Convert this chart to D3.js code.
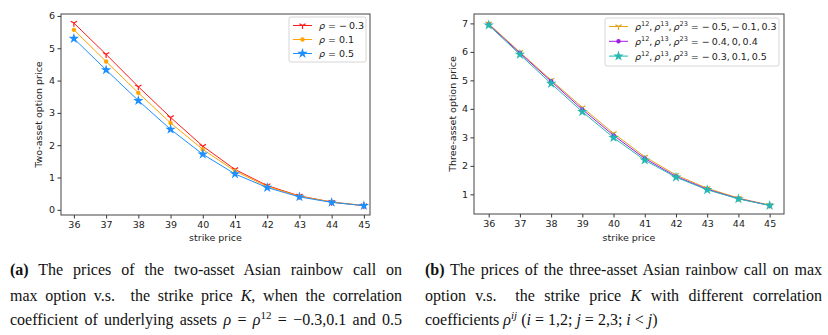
<!DOCTYPE html>
<html>
<head>
<meta charset="utf-8">
<script src="https://cdn.jsdelivr.net/npm/d3@7"></script>
<style>
  body { margin: 0; background: #fff; }
  svg { display: block; }
  .tick text { font-family: "DejaVu Sans", sans-serif; font-size: 9.5px; fill: #222; }
  .lbl { font-family: "DejaVu Sans", sans-serif; font-size: 9.5px; fill: #222; }
  .cap { font-family: "Liberation Serif", "Times New Roman", serif; font-size: 16px; fill: #111; white-space: pre; }
</style>
</head>
<body>
<div id="container"></div>
<script>
/* DATA */
const strikes = [36, 37, 38, 39, 40, 41, 42, 43, 44, 45];

// two-asset panel
const twoRhoNeg03 = [5.78, 4.81, 3.81, 2.86, 1.97, 1.25, 0.75, 0.43, 0.24, 0.13];
const twoRho01    = [5.57, 4.59, 3.62, 2.69, 1.87, 1.20, 0.72, 0.42, 0.24, 0.13];
const twoRho05    = [5.30, 4.33, 3.38, 2.49, 1.72, 1.11, 0.69, 0.40, 0.23, 0.13];
const twoTicks = [0, 1, 2, 3, 4, 5, 6];

// three-asset panel
const threeA = [6.99, 5.99, 5.01, 4.05, 3.14, 2.32, 1.68, 1.21, 0.87, 0.62];
const threeB = [6.96, 5.96, 4.97, 3.98, 3.07, 2.26, 1.63, 1.18, 0.85, 0.61];
const threeC = [6.94, 5.91, 4.89, 3.90, 2.99, 2.20, 1.60, 1.16, 0.84, 0.61];
const threeTicks = [1, 2, 3, 4, 5, 6, 7];

const W = 828, H = 335;
const svg = d3.select("#container").append("svg")
  .attr("width", W).attr("height", H);

// marker drawing
function drawMarker(g, type, color) {
  if (type === "tri") {
    const r = 3.6;
    g.append("path")
      .attr("d", `M0,0L0,${r}M0,0L${-r * 0.87},${-r * 0.5}M0,0L${r * 0.87},${-r * 0.5}`)
      .attr("stroke", color).attr("stroke-width", 1.2).attr("fill", "none");
  } else if (type === "dot") {
    g.append("circle").attr("r", 2.2).attr("fill", color);
  } else if (type === "star") {
    g.append("path").attr("d", d3.symbol(d3.symbolStar, 34)()).attr("fill", color);
  }
}

// legend label: array of [text, kind] where kind = n | i | sup
function richText(t, parts) {
  let sup = false;
  parts.forEach(([s, kind]) => {
    const sp = t.append("tspan").text(s);
    if (kind === "i") sp.attr("font-style", "italic");
    if (kind === "sup" && !sup) { sp.attr("dy", -3.5).attr("font-size", "6.5px"); sup = true; }
    else if (kind !== "sup" && sup) { sp.attr("dy", 3.5); sup = false; }
    else if (kind === "sup") sp.attr("font-size", "6.5px");
  });
}

function drawPanel(cfg) {
  const x = d3.scaleLinear().domain(cfg.xDomain).range(cfg.xRange);
  const y = d3.scaleLinear().domain(cfg.yDomain).range(cfg.yRange);
  const g = svg.append("g");

  // axes
  g.append("g")
    .attr("transform", `translate(0,${cfg.yRange[0]})`)
    .call(d3.axisBottom(x).tickValues(strikes).tickFormat(d3.format("d")).tickSize(3.5).tickPadding(3))
    .call(a => a.select(".domain").remove())
    .call(a => a.selectAll("line").attr("stroke", "#333"));
  g.append("g")
    .attr("transform", `translate(${cfg.xRange[0]},0)`)
    .call(d3.axisLeft(y).tickValues(cfg.yTicks).tickFormat(d3.format("d")).tickSize(3.5).tickPadding(2.5))
    .call(a => a.select(".domain").remove())
    .call(a => a.selectAll("line").attr("stroke", "#333"));

  // frame
  g.append("rect")
    .attr("x", cfg.xRange[0]).attr("y", cfg.yRange[1])
    .attr("width", cfg.xRange[1] - cfg.xRange[0])
    .attr("height", cfg.yRange[0] - cfg.yRange[1])
    .attr("fill", "none").attr("stroke", "#444").attr("stroke-width", 1);

  // series
  const line = d3.line().x((d, i) => x(strikes[i])).y(d => y(d));
  cfg.series.forEach(s => {
    g.append("path").datum(s.values)
      .attr("d", line).attr("fill", "none")
      .attr("stroke", s.color).attr("stroke-width", 1);
    g.selectAll(null).data(s.values).join("g")
      .attr("transform", (d, i) => `translate(${x(strikes[i])},${y(d)})`)
      .each(function () { drawMarker(d3.select(this), s.marker, s.color); });
  });

  // axis labels
  g.append("text").attr("class", "lbl")
    .attr("x", (cfg.xRange[0] + cfg.xRange[1]) / 2).attr("y", 241)
    .attr("text-anchor", "middle").text("strike price");
  g.append("text").attr("class", "lbl")
    .attr("transform", `translate(${cfg.yLabelX},${(cfg.yRange[0] + cfg.yRange[1]) / 2}) rotate(-90)`)
    .attr("text-anchor", "middle").text(cfg.yLabel);

  // legend
  const L = cfg.legend;
  g.append("rect")
    .attr("x", L.x).attr("y", L.y).attr("width", L.w).attr("height", L.h)
    .attr("rx", 2).attr("fill", "#fff").attr("fill-opacity", 0.8)
    .attr("stroke", "#ccc").attr("stroke-width", 0.8);
  cfg.series.forEach((s, i) => {
    const yy = L.y + 8.5 + i * L.step;
    g.append("line")
      .attr("x1", L.x + 4).attr("x2", L.x + 4 + L.lineW)
      .attr("y1", yy).attr("y2", yy)
      .attr("stroke", s.color).attr("stroke-width", 1);
    const mg = g.append("g").attr("transform", `translate(${L.x + 4 + L.lineW / 2},${yy})`);
    drawMarker(mg, s.marker, s.color);
    const t = g.append("text").attr("class", "lbl")
      .attr("x", L.x + 4 + L.lineW + 7).attr("y", yy + 3.4);
    richText(t, s.label);
    if (L.fit) {
      const len = t.node().getComputedTextLength();
      if (len > L.fit) t.attr("textLength", L.fit).attr("lengthAdjust", "spacingAndGlyphs");
    }
  });
}

const rhoLbl = v => [["ρ", "i"], [" = " + v, "n"]];
const triLbl = v => [["ρ", "i"], ["12", "sup"], [",\u2009", "n"], ["ρ", "i"], ["13", "sup"], [",\u2009", "n"],
  ["ρ", "i"], ["23", "sup"], [" = " + v, "n"]];

drawPanel({
  xDomain: [35.6, 45.19], xRange: [61, 370],
  yDomain: [-0.16, 6.06], yRange: [215, 14],
  yTicks: twoTicks, yLabel: "Two-asset option price", yLabelX: 42,
  legend: { x: 289, y: 17, w: 77, h: 45, step: 14, lineW: 19 },
  series: [
    { values: twoRhoNeg03, color: "#ff1a1a", marker: "tri", label: rhoLbl("\u2212\u20090.3") },
    { values: twoRho01, color: "#ffa500", marker: "dot", label: rhoLbl("0.1") },
    { values: twoRho05, color: "#1e8fff", marker: "star", label: rhoLbl("0.5") }
  ]
});

drawPanel({
  xDomain: [35.53, 45.46], xRange: [474, 784],
  yDomain: [0.31, 7.33], yRange: [214, 14],
  yTicks: threeTicks, yLabel: "Three-asset option price", yLabelX: 456,
  legend: { x: 605, y: 18, w: 174, h: 48, step: 14.8, lineW: 19, fit: 142 },
  series: [
    { values: threeA, color: "#e3a21a", marker: "tri", label: triLbl("\u2212\u20090.5,\u2009\u2212\u20090.1,\u20090.3") },
    { values: threeB, color: "#a21ae8", marker: "dot", label: triLbl("\u2212\u20090.4,\u20090,\u20090.4") },
    { values: threeC, color: "#26b8b0", marker: "star", label: triLbl("\u2212\u20090.3,\u20090.1,\u20090.5") }
  ]
});

/* CAPTIONS */
// each line: segments [text, kind] with kind = n | b | i | sup | supi
const capA = [
  [["(a)", "b"], [" The prices of the two-asset Asian rainbow call on", "n"]],
  [["max option v.s.  the strike price ", "n"], ["K", "i"], [", when the correlation", "n"]],
  [["coefficient of underlying assets ", "n"], ["ρ", "i"], [" = ", "n"], ["ρ", "i"], ["12", "sup"],
   [" = \u22120.3,0.1 and 0.5", "n"]]
];
const capB = [
  [["(b)", "b"], [" The prices of the three-asset Asian rainbow call on max", "n"]],
  [["option v.s.  the strike price ", "n"], ["K", "i"], [" with different correlation", "n"]],
  [["coefficients ", "n"], ["ρ", "i"], ["ij", "supi"], [" (", "n"], ["i", "i"], [" = 1,2; ", "n"],
   ["j", "i"], [" = 2,3; ", "n"], ["i", "i"], [" < ", "n"], ["j", "i"], [")", "n"]]
];
const capLineY = [275, 301, 325];

function drawCaption(lines, x0, width, justifyLast) {
  lines.forEach((segs, li) => {
    const t = svg.append("text").attr("class", "cap").attr("x", x0).attr("y", capLineY[li]);
    let sup = false;
    segs.forEach(([s, kind]) => {
      const sp = t.append("tspan").text(s);
      if (kind === "b") sp.attr("font-weight", "bold");
      if (kind === "i" || kind === "supi") sp.attr("font-style", "italic");
      const isSup = kind === "sup" || kind === "supi";
      if (isSup) { sp.attr("font-size", "11px"); if (!sup) sp.attr("dy", -6); sup = true; }
      else if (sup) { sp.attr("dy", 6); sup = false; }
    });
    if (li < lines.length - 1 || justifyLast) {
      const natural = t.node().getComputedTextLength();
      const spaces = segs.map(d => d[0]).join("").split(" ").length - 1;
      t.style("word-spacing", ((width - natural) / spaces) + "px");
    }
  });
}
drawCaption(capA, 10, 392, true);
drawCaption(capB, 425, 397, false);
</script>
</body>
</html>
